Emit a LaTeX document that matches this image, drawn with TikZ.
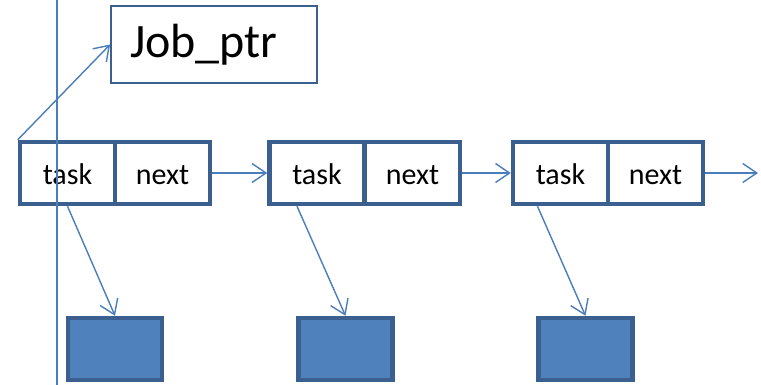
\documentclass[tikz,border=0pt]{standalone}
\usepackage{fontspec}
\setmainfont{Carlito}
\usetikzlibrary{arrows.meta}
\definecolor{lineblue}{HTML}{4A7EBB}
\definecolor{darkblue}{HTML}{3B5F8E}
\definecolor{fillblue}{HTML}{4F81BD}
\tikzset{
  cell/.style={draw=darkblue, line width=4.5pt, fill=white, minimum width=95pt, minimum height=62pt, inner sep=0pt, text height=24pt, text depth=0pt, font=\fontsize{30pt}{33pt}\selectfont},
  datbox/.style={draw=darkblue, line width=4.5pt, fill=fillblue, minimum width=94pt, minimum height=62pt, inner sep=0pt},
  conn/.style={draw=lineblue, line width=1.4pt, -{Straight Barb[length=14pt,width=19pt,line width=1.4pt]}},
}
\begin{document}
\begin{tikzpicture}[x=1pt,y=-1pt]
\useasboundingbox (0,0) rectangle (761,385);
% Job_ptr
\node[draw=darkblue, line width=1.8pt, minimum height=77pt, inner xsep=19pt, text width=168pt, align=left, font=\fontsize{48pt}{52pt}\selectfont] (jb) at (214,44.5) {Job\_ptr};
% list nodes
\node[cell] (t1) at (67.5,173) {task};
\node[cell] (n1) at (162.5,173) {next};
\node[cell] (t2) at (317,173) {task};
\node[cell] (n2) at (412.5,173) {next};
\node[cell] (t3) at (560.5,173) {task};
\node[cell] (n3) at (655.5,173) {next};
% data boxes
\node[datbox] (b1) at (115,349) {};
\node[datbox] (b2) at (345.5,349) {};
\node[datbox] (b3) at (585.5,349) {};
\coordinate (end) at (758,173);
% connectors
\draw[conn] (t1.north west) -- (jb.west);
\draw[conn] (n1.east) -- (t2.west);
\draw[conn] (n2.east) -- (t3.west);
\draw[conn] (n3.east) -- (end);
\draw[conn] (t1.south) -- (b1.north);
\draw[conn] ([xshift=-20pt]t2.south) -- (b2.north);
\draw[conn] ([xshift=-23pt]t3.south) -- (b3.north);
% vertical line
\coordinate (vt) at (57,0);
\coordinate (vb) at (57,385);
\draw[lineblue, line width=1.3pt] (vt) -- (vb);
\end{tikzpicture}
\end{document}
